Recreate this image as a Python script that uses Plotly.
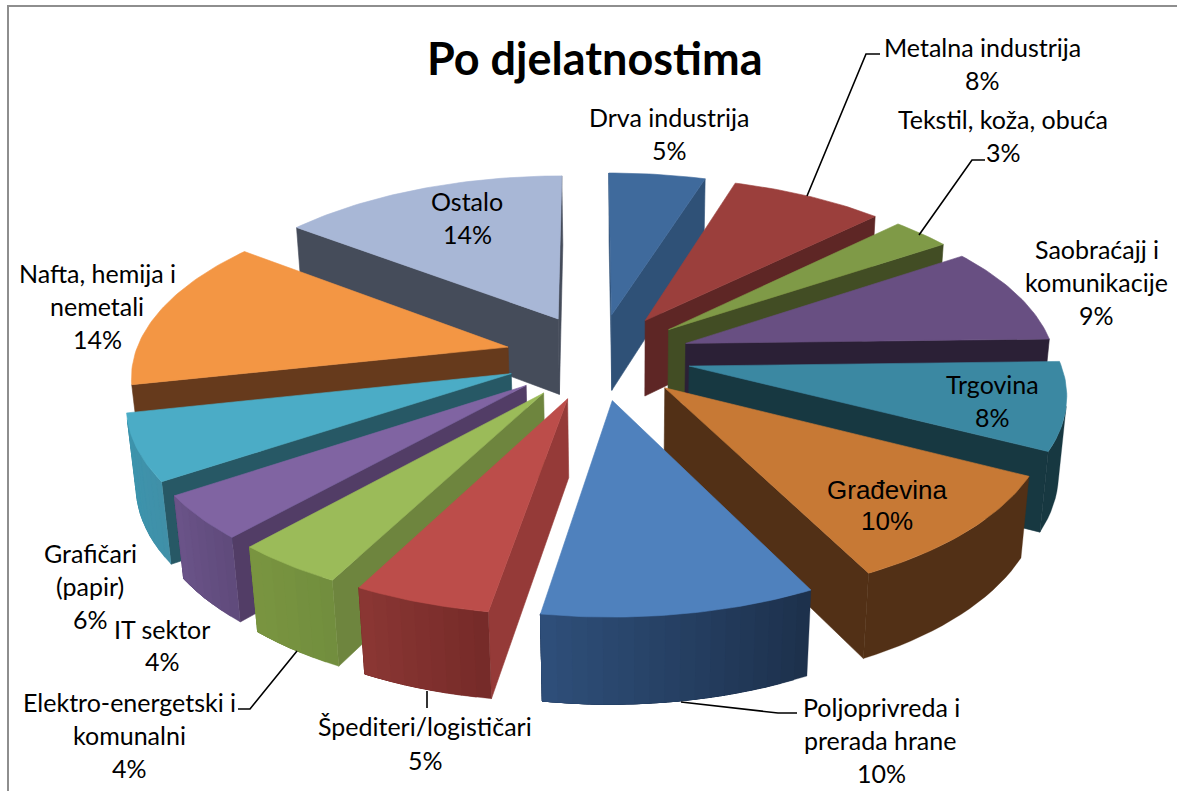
import numpy as np
import plotly.graph_objects as go

categories = ["Drva industrija","Metalna industrija","Tekstil, koža, obuća","Saobraćajj i komunikacije","Trgovina","Građevina","Poljoprivreda i prerada hrane","Špediteri/logističari","Elektro-energetski i komunalni","IT sektor","Grafičari (papir)","Nafta, hemija i nemetali","Ostalo"]
# unrounded shares (labels show them rounded)
shares = [4.9,7.8,3,9,8,10,10,5,4,4,6,13.8,14.5]
top_colors = ["#3F6A9C","#9B3F3C","#7F9A47","#684F82","#3B88A2","#C77935","#4F81BD","#BC4D4A","#9BBB59","#8064A2","#4BACC6","#F39644","#A8B7D6"]
side_colors = ["#2F5177","#5E2625","#424D24","#2B2036","#173841","#523016","#2E4B73","#953A38","#6E853E","#523D66","#275865","#663A1C","#454C5A"]
arc_start = ["#2F5177","#5E2625","#424D24","#2B2036","#173841","#523016","#1C304B","#752A28","#718E3E","#5F4A7B","#4090A8","#663A1C","#454C5A"]
arc_end = ["#2F5177","#5E2625","#424D24","#2B2036","#173841","#523016","#2F4F7A","#8B3734","#7A9540","#6B5489","#3C95AE","#663A1C","#454C5A"]

# Camera of the 3D pie: unit radius, unit thickness, fractional explosion
CAMERA = np.array([[376.06021,-74.33634,-11.77141,598.09428],[-2.13228,122.86551,-85.19042,356.39606],[0.00794,-0.13953,-0.01878,1.0]])
EXPLODE = 0.25
FIRST_ANGLE = 1.2
C = np.linalg.svd(CAMERA)[2][-1]; C = C/C[3]
b = FIRST_ANGLE+np.concatenate([[0],np.cumsum(shares)])*3.6

def u(a):
    r=np.radians(a); return np.array([np.sin(r),-np.cos(r)])
def proj(xy,z):
    xy=np.atleast_2d(xy)
    X=np.c_[xy,np.full(len(xy),z),np.ones(len(xy))]
    H=(CAMERA@X.T).T
    return H[:,:2]/H[:,2:]
def hexmix(a,b_,t):
    ca=np.array([int(a[i:i+2],16) for i in (1,3,5)]);cb=np.array([int(b_[i:i+2],16) for i in (1,3,5)])
    c=np.round(ca+(cb-ca)*t).astype(int)
    return "#%02X%02X%02X"%tuple(c)

fig=go.Figure()
def poly(pts,color,name,lw=0.6):
    pts=np.vstack([pts,pts[:1]])
    fig.add_trace(go.Scatter(x=pts[:,0],y=pts[:,1],mode="lines",fill="toself",fillcolor=color,line=dict(color=color,width=lw),name=name,hoverinfo="skip",showlegend=False))
def facing(pt,normal):
    return np.dot(normal,C[:2]-pt)>0

order=sorted(range(len(shares)),key=lambda i:-np.cos(np.radians((b[i]+b[i+1])/2)))
for i in order:
    a0,a1=b[i],b[i+1];m=(a0+a1)/2;c=EXPLODE*u(m)
    n0=-np.array([np.cos(np.radians(a0)),np.sin(np.radians(a0))])
    n1=np.array([np.cos(np.radians(a1)),np.sin(np.radians(a1))])
    for a,n in ((a0,n0),(a1,n1)):
        e=c+u(a)
        if facing((c+e)/2,n):
            poly(np.vstack([proj(c,0),proj(e,0),proj(e,-1),proj(c,-1)]),side_colors[i],categories[i])
    # outer wall: each band reaches to the end of the arc and is overdrawn by the next, so no seams
    steps=max(2,int((a1-a0)/2))
    ang=np.linspace(a0,a1,steps+1)
    vis=[j for j in range(steps) if facing(c+u((ang[j]+ang[j+1])/2),u((ang[j]+ang[j+1])/2))]
    if vis:
        last=vis[-1]+1
        flat=arc_start[i]==arc_end[i]
        for j in ([vis[0]] if flat else vis):
            rim=np.array([c+u(a) for a in ang[j:last+1]])
            poly(np.vstack([proj(rim,0),proj(rim[::-1],-1)]),hexmix(arc_start[i],arc_end[i],(j+.5)/steps),categories[i],0.3)
    arc=np.array([c+u(a) for a in np.linspace(a0,a1,max(3,int(a1-a0)+1))])
    poly(np.vstack([proj(c,0),proj(arc,0)]),top_colors[i],categories[i])

labels=[("Metalna industrija",982,47),("8%",982,80),("Tekstil, koža, obuća",1003,119),("3%",1003,152),("Drva industrija",669,117),("5%",669,150),
("Saobraćajj i",1097,249),("komunikacije",1096,282),("9%",1096,315),("Trgovina",992,384),("8%",992,417),
("Poljoprivreda i",881,707),("prerada hrane",880,740),("10%",881,773),("Špediteri/logističari",425,726),("5%",425,760),
("Elektro-energetski i",129,702),("komunalni",129,735),("4%",129,768),("IT sektor",162,629),("4%",162,661),
("Grafičari",90,553),("(papir)",90,586),("6%",90,619),("Nafta, hemija i",97,273),("nemetali",97,306),("14%",97,339),("Ostalo",467,201),("14%",467,234)]
annos=[dict(x=x,y=y,text=t,showarrow=False,xanchor="center",yanchor="middle",font=dict(family="Lato",size=25,color="#000")) for t,x,y in labels]
annos+=[dict(x=887,y=490,text="Građevina",showarrow=False,font=dict(family="Liberation Sans",size=26,color="#000")),dict(x=887,y=521,text="10%",showarrow=False,font=dict(family="Liberation Sans",size=26,color="#000")),
 dict(x=595,y=58,text="<b>Po djelatnostima</b>",showarrow=False,font=dict(family="Lato",size=45,color="#000"))]
leaders=[[(807,196),(866,54),(880,54)],[(919,235),(972,160),(985,160)],[(297,651),(250,709),(238,709)],[(427,691),(427,708)],[(681,702),(778,713),(797,713)]]
shapes=[dict(type="path",xref="x",yref="y",path="M"+" L".join(f"{x},{y}" for x,y in l),line=dict(color="#000",width=1.6)) for l in leaders]
shapes+=[dict(type="path",xref="x",yref="y",path="M8,791 L8,6 L1177,6",line=dict(color="#8E8E8E",width=2))]
fig.update_layout(width=1177,height=791,margin=dict(l=0,r=0,t=0,b=0),paper_bgcolor="#fff",plot_bgcolor="#fff",showlegend=False,annotations=annos,shapes=shapes,
 xaxis=dict(range=[0,1177],visible=False,fixedrange=True),yaxis=dict(range=[791,0],visible=False,fixedrange=True))
fig.write_html("out.html",config={"displayModeBar":False},post_script="document.body.style.margin='0';document.body.style.overflow='hidden';")
